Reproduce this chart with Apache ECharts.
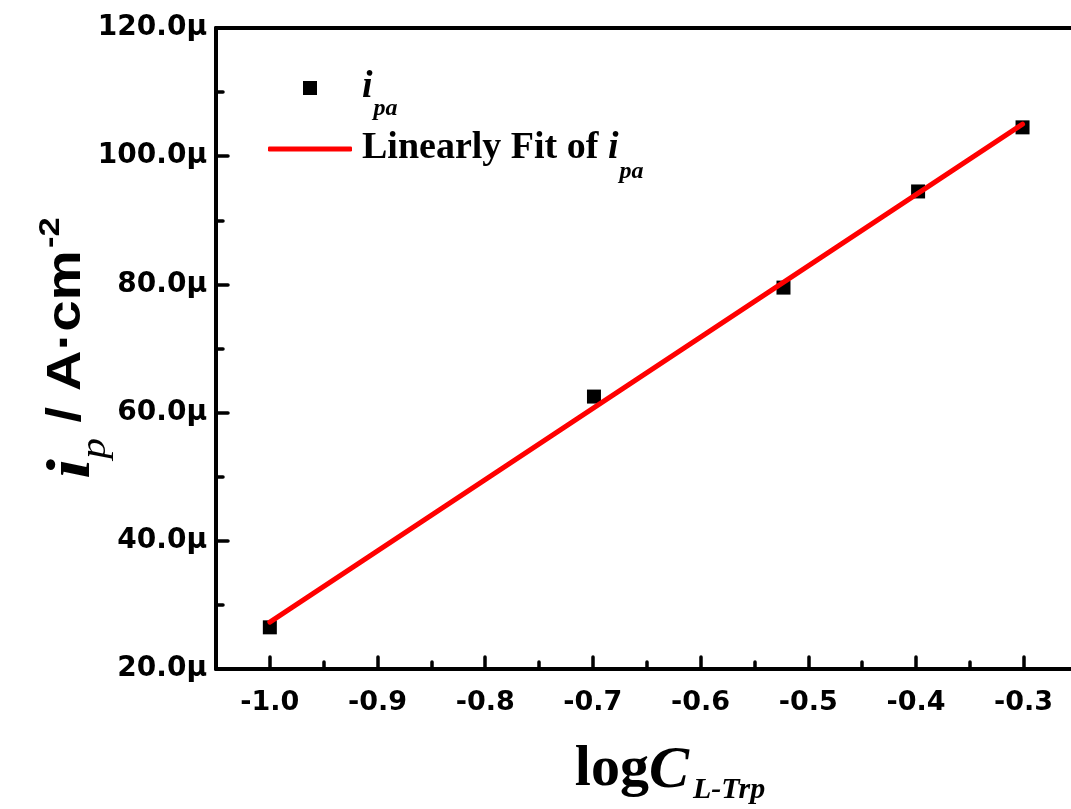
<!DOCTYPE html>
<html>
<head>
<meta charset="utf-8">
<script src="https://cdn.jsdelivr.net/npm/echarts@6/dist/echarts.min.js"></script>
<style>
  html, body { margin: 0; padding: 0; background: #fff; }
  #chart { width: 1071px; height: 809px; }
</style>
</head>
<body>
<div id="chart"></div>
<script>
// ---- data ----
const logC = [-1.0, -0.699, -0.523, -0.398, -0.301];
const ipa = [26.5, 62.5, 79.5, 94.5, 104.5];          // µA·cm^-2
const fitX = [-1.0, -0.301];
const fitY = [27.3, 105.0];
const xMajorTicks = [-1.0, -0.9, -0.8, -0.7, -0.6, -0.5, -0.4, -0.3];
const xMinorTicks = [-0.95, -0.85, -0.75, -0.65, -0.55, -0.45, -0.35];
const yMin = 20, yMax = 120, yStep = 20;
const xMin = -1.05, xMax = -0.256;

const chart = echarts.init(document.getElementById('chart'), null, { renderer: 'canvas' });

const scatterData = logC.map((x, i) => [x, ipa[i]]);
const fitData = fitX.map((x, i) => [x, fitY[i]]);

const serif = '"Liberation Serif", "Times New Roman", serif';
const sans = '"Liberation Sans", Arial, sans-serif';
const wide = '"DejaVu Sans", sans-serif';
const tickLine = { color: '#000', width: 3.5, cap: 'round' };

chart.setOption({
  animation: false,
  backgroundColor: '#fff',
  grid: { left: 216, top: 28, right: 0, bottom: 140, show: false },
  xAxis: [
    {
      type: 'value', min: xMin, max: xMax, position: 'bottom',
      axisLine: { show: true, lineStyle: { color: '#000', width: 4 } },
      axisTick: { show: true, inside: true, length: 12, customValues: xMajorTicks, lineStyle: tickLine },
      axisLabel: { show: true, customValues: xMajorTicks, margin: 20,
                   formatter: v => v.toFixed(1),
                   color: '#000', fontFamily: wide, fontWeight: 'bold', fontSize: 27 },
      splitLine: { show: false }
    },
    {
      type: 'value', min: xMin, max: xMax, position: 'bottom',
      axisLine: { show: false },
      axisTick: { show: true, inside: true, length: 7, customValues: xMinorTicks, lineStyle: tickLine },
      axisLabel: { show: false },
      splitLine: { show: false }
    },
    {
      type: 'value', min: xMin, max: xMax, position: 'top',
      axisLine: { show: true, lineStyle: { color: '#000', width: 4 } },
      axisTick: { show: false }, axisLabel: { show: false }, splitLine: { show: false }
    }
  ],
  yAxis: {
    type: 'value', min: yMin, max: yMax, interval: yStep,
    axisLine: { show: true, lineStyle: { color: '#000', width: 4 } },
    axisTick: { show: true, inside: true, length: 12, lineStyle: tickLine },
    minorTick: { show: true, splitNumber: 2, length: 7, lineStyle: tickLine },
    axisLabel: { margin: 9, formatter: v => v.toFixed(1) + 'μ',
                 color: '#000', fontFamily: wide, fontWeight: 'bold', fontSize: 28 },
    splitLine: { show: false }
  },
  legend: [
    {
      data: [{ name: 'ipa', icon: 'rect' }],
      left: 303, top: 68, orient: 'vertical', padding: 0,
      itemWidth: 14, itemHeight: 14,
      formatter: () => '{i|i}{s|pa}',
      textStyle: {
        rich: {
          i: { fontFamily: serif, fontStyle: 'italic', fontWeight: 'bold', fontSize: 38, color: '#000',
               lineHeight: 40, verticalAlign: 'top', padding: [0, 0, 0, 40] },
          s: { fontFamily: serif, fontStyle: 'italic', fontWeight: 'bold', fontSize: 24, color: '#000',
               lineHeight: 24, verticalAlign: 'top', padding: [29, 0, 0, 1] }
        }
      }
    },
    {
      data: [{ name: 'fit', icon: 'roundRect' }],
      left: 268, top: 129, orient: 'vertical', padding: 0,
      itemWidth: 84, itemHeight: 5,
      formatter: () => '{t|Linearly Fit of }{i|i}{s|pa}',
      textStyle: {
        rich: {
          t: { fontFamily: serif, fontWeight: 'bold', fontSize: 38, color: '#000',
               lineHeight: 40, verticalAlign: 'top', padding: [0, 0, 0, 5] },
          i: { fontFamily: serif, fontStyle: 'italic', fontWeight: 'bold', fontSize: 38, color: '#000',
               lineHeight: 40, verticalAlign: 'top' },
          s: { fontFamily: serif, fontStyle: 'italic', fontWeight: 'bold', fontSize: 24, color: '#000',
               lineHeight: 24, verticalAlign: 'top', padding: [31, 0, 0, 1] }
        }
      }
    }
  ],
  series: [
    {
      name: 'ipa', type: 'scatter', xAxisIndex: 0, data: scatterData,
      symbol: 'rect', symbolSize: 14,
      itemStyle: { color: '#000', opacity: 1 }, z: 2
    },
    {
      name: 'fit', type: 'line', xAxisIndex: 0, data: fitData,
      showSymbol: false, symbol: 'none',
      lineStyle: { color: '#ff0000', width: 5, cap: 'round' },
      itemStyle: { color: '#ff0000' }, z: 3
    }
  ],
  graphic: [
    {
      type: 'text', x: 68, y: 348, rotation: Math.PI / 2, scaleX: 1.15,
      style: {
        text: '{i|i}{p|p}{m| / A·cm}{u|-2}',
        align: 'center', verticalAlign: 'middle',
        rich: {
          i: { fontFamily: serif, fontStyle: 'italic', fontWeight: 'bold', fontSize: 62, fill: '#000',
               lineHeight: 64, verticalAlign: 'top', padding: [6, 0, 0, 0] },
          p: { fontFamily: serif, fontStyle: 'italic', fontSize: 36, fill: '#000',
               lineHeight: 36, verticalAlign: 'top', padding: [42, 0, 0, 0] },
          m: { fontFamily: sans, fontWeight: 'bold', fontSize: 49, fill: '#000',
               lineHeight: 64, verticalAlign: 'top', padding: [6, 0, 0, 0] },
          u: { fontFamily: sans, fontWeight: 'bold', fontSize: 30, fill: '#000',
               lineHeight: 30, verticalAlign: 'top', padding: [0, 0, 0, 2] }
        }
      }
    },
    {
      type: 'text', x: 670, y: 772,
      style: {
        text: '{l|log}{c|C}{s|L-Trp}',
        align: 'center', verticalAlign: 'middle',
        rich: {
          l: { fontFamily: serif, fontWeight: 'bold', fontSize: 58, fill: '#000',
               lineHeight: 62, verticalAlign: 'top' },
          c: { fontFamily: serif, fontStyle: 'italic', fontWeight: 'bold', fontSize: 60, fill: '#000',
               lineHeight: 62, verticalAlign: 'top' },
          s: { fontFamily: serif, fontStyle: 'italic', fontWeight: 'bold', fontSize: 30, fill: '#000',
               lineHeight: 30, verticalAlign: 'top', padding: [34, 0, 0, 4] }
        }
      }
    }
  ]
});
</script>
</body>
</html>
